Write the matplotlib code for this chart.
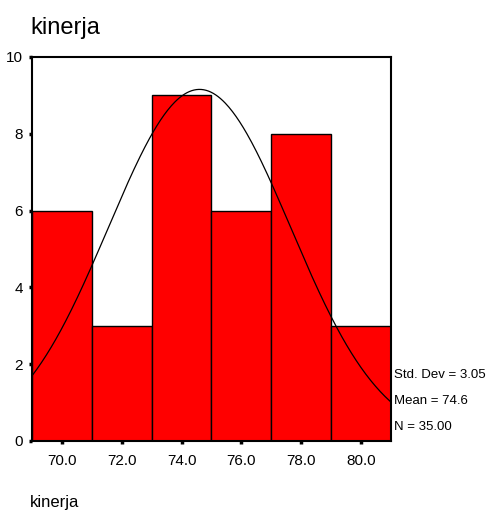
import numpy as np
import matplotlib.pyplot as plt

plt.rcParams['font.family'] = ['Liberation Sans', 'DejaVu Sans']

# histogram data
bin_edges = [69, 71, 73, 75, 77, 79, 81]
counts = [6, 3, 9, 6, 8, 3]
x_ticks = [70, 72, 74, 76, 78, 80]
y_ticks = [0, 2, 4, 6, 8, 10]
std_dev = 3.05
mean = 74.6
n = 35

fig = plt.figure(figsize=(4.86, 5.13), dpi=100)
ax = fig.add_axes([0.0658, 0.1404, 0.7387, 0.7485])

widths = np.diff(bin_edges)
ax.bar(bin_edges[:-1], counts, width=widths, align='edge',
       color='#ff0000', edgecolor='black', linewidth=1)

# normal curve scaled to counts
xs = np.linspace(bin_edges[0], bin_edges[-1], 300)
bw = widths[0]
ys = n * bw / (std_dev * np.sqrt(2 * np.pi)) * np.exp(-0.5 * ((xs - mean) / std_dev) ** 2)
ax.plot(xs, ys, color='black', linewidth=0.9)

ax.set_xlim(bin_edges[0], bin_edges[-1])
ax.set_ylim(0, 10)
ax.set_xticks(x_ticks)
ax.set_xticklabels(['%.1f' % v for v in x_ticks])
ax.set_yticks(y_ticks)
ax.tick_params(direction='out', length=2.5, width=2.5, labelsize=11)
ax.tick_params(axis='x', pad=7)
ax.tick_params(axis='y', pad=4)
for s in ax.spines.values():
    s.set_linewidth(1.5)

fig.text(30 / 486, 1 - 34 / 513, 'kinerja', fontsize=17, va='baseline')
fig.text(30 / 486, 6 / 513, 'kinerja', fontsize=12, va='baseline')

stats = ['Std. Dev = %.2f' % std_dev, 'Mean = %.1f' % mean, 'N = %.2f' % n]
for i, s in enumerate(stats):
    fig.text(394 / 486, 1 - (375 + 26 * i) / 513, s, fontsize=9.5, va='center')

plt.savefig('out.png')
